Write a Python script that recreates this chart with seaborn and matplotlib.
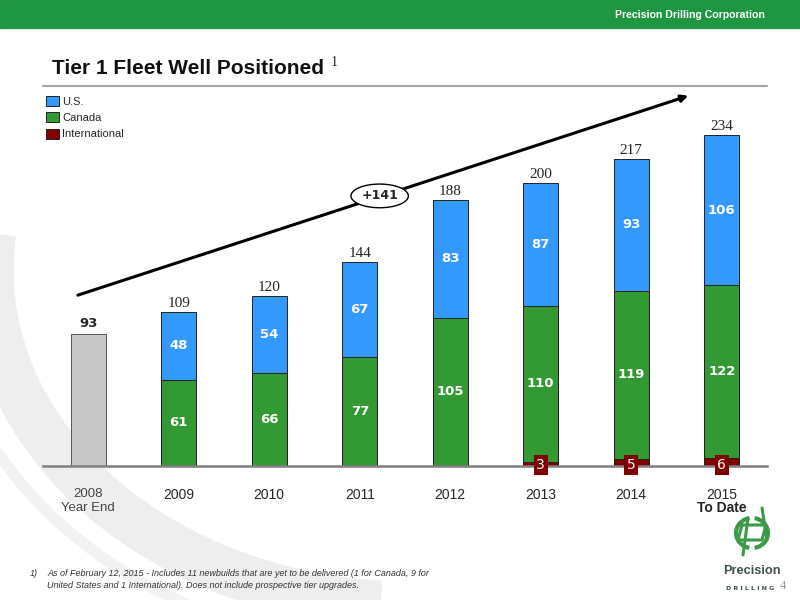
import numpy as np
import matplotlib
matplotlib.use("Agg")
import matplotlib.pyplot as plt
import seaborn as sns
from matplotlib.patches import Patch, Rectangle, Arc

# data
years = ["2008", "2009", "2010", "2011", "2012", "2013", "2014", "2015"]
fleet_2008 = [93, 0, 0, 0, 0, 0, 0, 0]
us = [0, 48, 54, 67, 83, 87, 93, 106]
canada = [0, 61, 66, 77, 105, 110, 119, 122]
international = [0, 0, 0, 0, 0, 3, 5, 6]
growth_label = "+141"

tick_labels = ["2008\nYear End", "2009", "2010", "2011", "2012", "2013", "2014", "2015"]

C_US = "#3399FF"
C_CAN = "#339933"
C_INT = "#800000"
C_GREY = "#C8C8C8"
C_HEADER = "#1E9642"
SANS = ["Liberation Sans", "DejaVu Sans"]

sns.set_theme(style="white")
plt.rcParams["font.family"] = ["DejaVu Sans"]

fig = plt.figure(figsize=(8, 6), dpi=100)

# background layer in pixel coordinates (header, swoosh, rules, logo)
bg = fig.add_axes([0, 0, 1, 1], zorder=-1)
bg.set_xlim(0, 800)
bg.set_ylim(600, 0)
bg.axis("off")
bg.add_patch(Arc((410, 270), 2 * 470, 2 * 380, theta1=95, theta2=185, lw=8, color="#F2F2F2"))
bg.add_patch(Arc((410, 270), 2 * 420, 2 * 335, theta1=95, theta2=185, lw=34, color="#EEEEEE"))
bg.add_patch(Rectangle((0, 0), 800, 28, color=C_HEADER))
bg.text(765, 15, "Precision Drilling Corporation", color="white", fontsize=7.6,
        fontweight="bold", ha="right", va="center", family=SANS)
bg.text(52, 68, "Tier 1 Fleet Well Positioned", fontsize=15, fontweight="bold",
        ha="left", va="center", family=SANS, color="#111111")
bg.text(331, 62, "1", fontsize=10, ha="left", va="center", family=["Liberation Serif"])
bg.plot([43, 767], [86, 86], color="#A6A6A6", lw=1.5)

# footnote
note_kw = dict(fontsize=6.5, style="italic", color="#333333", va="center", family=SANS)
bg.text(30, 573, "1)", **note_kw)
bg.text(47, 573, "As of February 12, 2015 - Includes 11 newbuilds that are yet to be delivered (1 for Canada, 9 for",
        **note_kw)
bg.text(47, 585, "United States and 1 International). Does not include prospective tier upgrades.",
        **note_kw)

# logo, roughly
bg.add_patch(Arc((752, 533), 32, 30, theta1=100, theta2=260, lw=3, color="#3A9A48"))
bg.add_patch(Arc((752, 533), 32, 30, theta1=280, theta2=80, lw=3, color="#3A9A48"))
bg.plot([742, 766, 762, 738, 742], [525, 525, 540, 540, 525], color="#3A9A48", lw=2.2)
bg.plot([748, 743], [518, 555], color="#3A9A48", lw=2.2)
bg.plot([762, 767], [508, 540], color="#3A9A48", lw=2.2)
bg.text(752, 571, "Precision", fontsize=9.2, fontweight="bold", color="#3D5246",
        ha="center", va="center", family=SANS)
bg.text(750, 588, "D R I L L I N G", fontsize=4.5, fontweight="bold", color="#3D5246",
        ha="center", va="center")
bg.text(783, 586, "4", fontsize=9, color="#999999", ha="center", va="center",
        family=["Liberation Serif"])

# main chart
ax = fig.add_axes([43 / 800, 1 - 466 / 600, 724 / 800, 376 / 600])
ax.patch.set_alpha(0)

us = np.array(us)
canada = np.array(canada)
international = np.array(international)
totals = us + canada + international

# stacked look: draw cumulative heights back to front
bar_kw = dict(width=0.39, edgecolor="#222222", linewidth=0.7, saturation=1, ax=ax)
sns.barplot(x=years, y=totals, color=C_US, **bar_kw)
sns.barplot(x=years, y=canada + international, color=C_CAN, **bar_kw)
sns.barplot(x=years, y=international, color=C_INT, **bar_kw)
sns.barplot(x=years, y=fleet_2008, color=C_GREY, width=0.39, edgecolor="#555555",
            linewidth=0.7, saturation=1, ax=ax)

for i in range(len(years)):
    if fleet_2008[i]:
        ax.annotate(str(fleet_2008[i]), (i, fleet_2008[i]), xytext=(0, 3),
                    textcoords="offset points", ha="center", va="bottom",
                    fontsize=9.5, fontweight="bold")
        continue
    ax.annotate(str(totals[i]), (i, totals[i]), xytext=(0, 1.5),
                textcoords="offset points", ha="center", va="bottom",
                fontsize=11, family=["Liberation Serif"])
    ax.text(i, international[i] + canada[i] + us[i] / 2, str(us[i]), color="white",
            fontsize=9.5, fontweight="bold", ha="center", va="center")
    ax.text(i, international[i] + canada[i] / 2, str(canada[i]), color="white",
            fontsize=9.5, fontweight="bold", ha="center", va="center")
    if international[i]:
        ax.text(i, 0.7, str(international[i]), color="white", fontsize=10,
                ha="center", va="center", zorder=6,
                bbox=dict(boxstyle="square,pad=0.2", fc=C_INT, ec="none"))

# growth arrow
ax.annotate("", xy=(6.66, 262.4), xytext=(-0.144, 120.2),
            arrowprops=dict(arrowstyle="-|>", lw=2.2, color="black", mutation_scale=10),
            annotation_clip=False)
ax.text(3.22, 191, growth_label, fontsize=9, fontweight="bold", ha="center", va="center",
        zorder=7, bbox=dict(boxstyle="ellipse,pad=0.15", fc="white", ec="black", lw=1))

ax.set_xlim(-0.5, 7.5)
ax.set_ylim(0, 265.9)
ax.set_yticks([])
ax.set_xlabel("")
ax.set_ylabel("")
for s in ["top", "left", "right"]:
    ax.spines[s].set_visible(False)
ax.spines["bottom"].set_color("#7F7F7F")
ax.spines["bottom"].set_linewidth(1.8)
ax.spines["bottom"].set_zorder(5)

ax.set_xticks(range(len(years)))
ax.set_xticklabels(tick_labels, fontsize=10, family=SANS, linespacing=1.25, va="top")
ax.tick_params(axis="x", length=0, pad=15.5)
first = ax.get_xticklabels()[0]
first.set_color("#444444")
first.set_fontsize(9.5)
ax.text(7, -29.5, "To Date", transform=ax.transData, fontsize=10, fontweight="bold",
        ha="center", va="center", family=SANS, clip_on=False)

handles = [Patch(fc=C_US, ec="#222222", lw=0.7, label="U.S."),
           Patch(fc=C_CAN, ec="#222222", lw=0.7, label="Canada"),
           Patch(fc=C_INT, ec="#222222", lw=0.7, label="International")]
fig.legend(handles=handles, loc="upper left", bbox_to_anchor=(46 / 800, 1 - 96 / 600),
           frameon=False, handlelength=1.15, handleheight=1.0,
           handletextpad=0.3, labelspacing=0.5, borderaxespad=0, borderpad=0,
           prop={"family": SANS, "size": 8})

fig.savefig("out.png", dpi=100)
